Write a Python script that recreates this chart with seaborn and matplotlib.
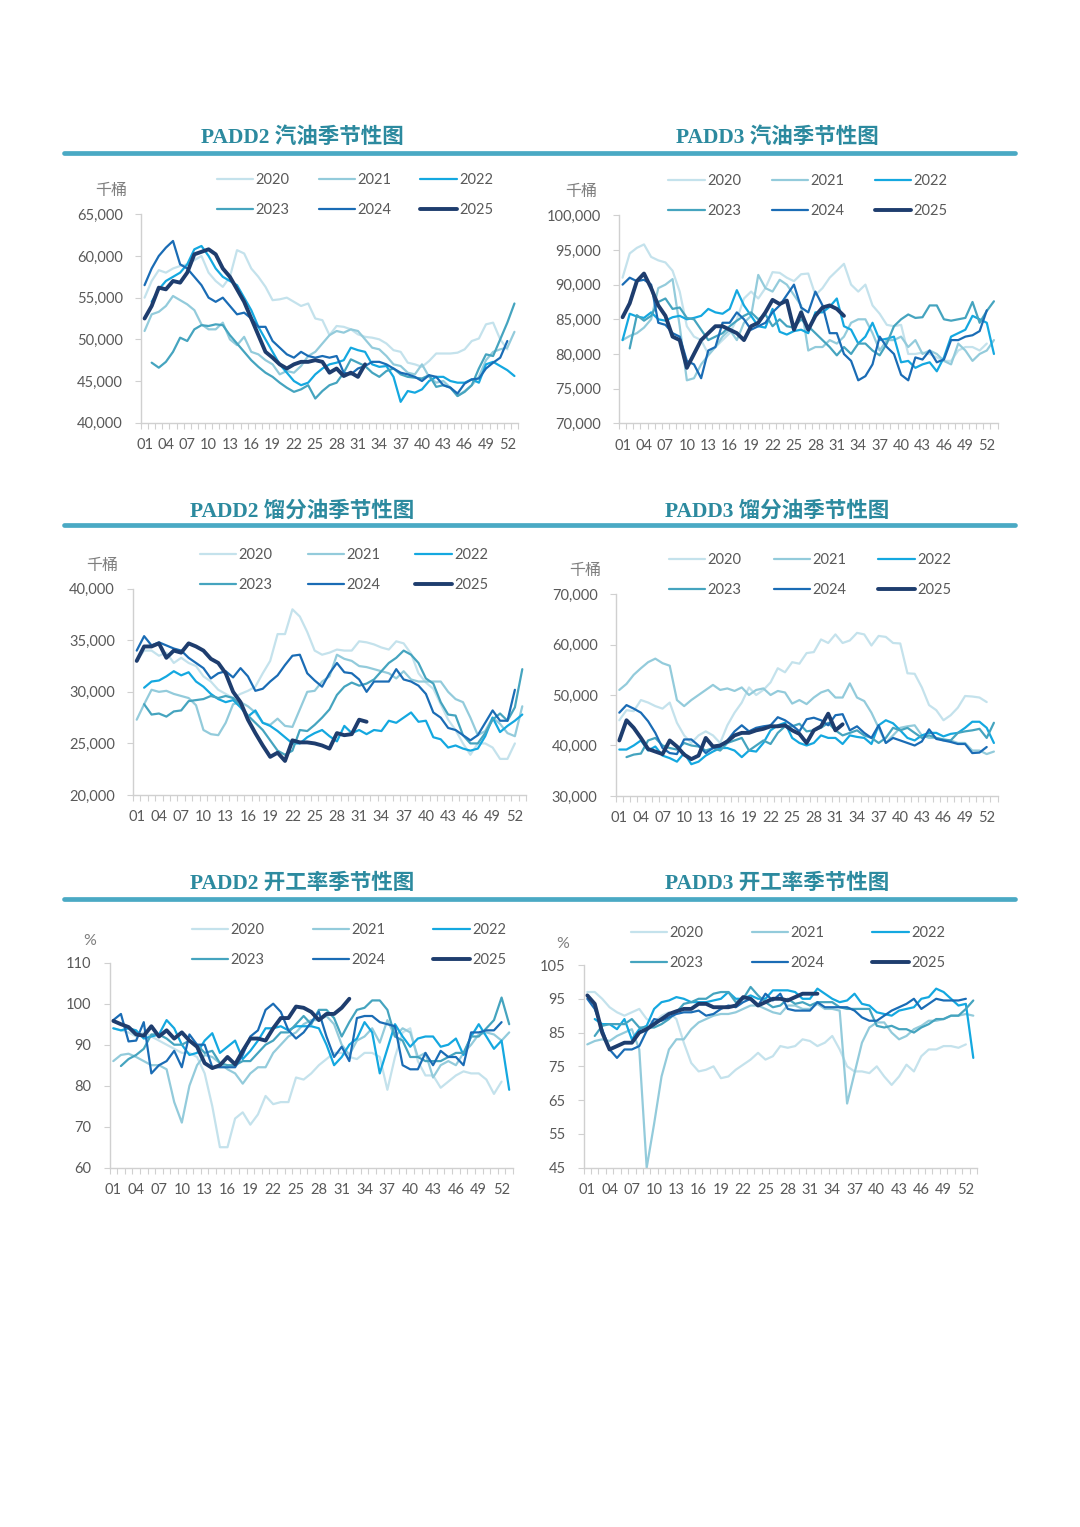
import numpy as np
import pandas as pd
import matplotlib
matplotlib.use("Agg")
import matplotlib.pyplot as plt
from matplotlib.lines import Line2D
from matplotlib.ticker import FuncFormatter
import seaborn as sns

# --- Axes categories ---
YEARS = ['2020', '2021', '2022', '2023', '2024', '2025']
WEEK_TICKS = list(range(1, 53, 3))
WEEK_LABELS = [f"{w:02d}" for w in WEEK_TICKS]
N = None

# --- PADD2 gasoline stocks (kbbl) ---
g2_2020 = [55000, 57000, 58300, 58000, 58500, 58800, 59000, 59500, 60000, 58000,
           57000, 56300, 57500, 60700, 60300, 58500, 57500, 56300, 54700, 54800,
           55000, 54500, 54000, 54300, 52500, 52300, 50500, 51600, 51500, 51200,
           50600, 50300, 50200, 50000, 49500, 48700, 48500, 47200, 47000, 46700,
           47400, 48300, 48300, 48300, 48400, 48800, 49800, 50100, 51800, 52000,
           50000, 48800, N]
g2_2021 = [51000, 53000, 53300, 54000, 55200, 54700, 54200, 53500, 51800, 51200,
           51200, 52000, 50000, 49300, 50300, 48500, 48200, 47500, 47000, 45800,
           46200, 46000, 46800, 48000, 48500, 49500, 50500, 51000, 50800, 51200,
           51000, 50000, 49000, 48800, 48000, 47000, 46800, 46000, 45800, 47000,
           45500, 44800, 45000, 44200, 43200, 43800, 44500, 45500, 47500, 48500,
           48800, 49000, 50900]
g2_2022 = [N, 54500, 56000, 57000, 57500, 58000, 59000, 60800, 61200, 60000,
           58500, 57500, 57000, 56500, 55000, 53500, 51500, 50000, 48500, 47000,
           46000, 45000, 44500, 44800, 45800, 46500, 47000, 47200, 47500, 49000,
           48700, 48500, 47000, 46700, 46800, 45500, 42500, 43800, 43600, 44000,
           45000, 45500, 45500, 45000, 44800, 44800, 45200, 44800, 47000, 47300,
           46800, 46300, 45600]
g2_2023 = [N, 47200, 46600, 47300, 48500, 50200, 49800, 51200, 51700, 51600,
           51800, 51700, 50500, 49500, 48500, 47500, 46700, 46000, 45500, 44800,
           44200, 43700, 44000, 44500, 42900, 43800, 44500, 44800, 46000, 47600,
           47200, 46800, 46000, 45500, 46200, 46500, 45800, 45500, 45400, 45300,
           45700, 44300, 44500, 44200, 43200, 43700, 44500, 46500, 48200, 48000,
           50000, 52000, 54300]
g2_2024 = [56500, 58500, 60000, 61000, 61800, 59000, 58500, 57500, 56500, 55000,
           54500, 55000, 54000, 53000, 53200, 52500, 51500, 51500, 49800, 49000,
           48200, 47800, 48500, 48000, 47800, 48000, 47800, 48000, 46000, 45800,
           46500, 46800, 47300, 47300, 47000, 46500, 46000, 45800, 45500, 45000,
           45700, 45500, 44500, 44200, 43500, 44700, 45200, 45300, 46500, 47200,
           47800, 49800, N]
g2_2025 = [52500, 54000, 56200, 56000, 57000, 56800, 58000, 60200, 60500, 60800,
           60200, 58500, 57500, 56000, 54500, 52500, 50500, 48500, 47800, 47000,
           46500, 47000, 47300, 47300, 47500, 47300, 46000, 46500, 45600, 46000,
           45500, 47000]

# --- PADD3 gasoline stocks (kbbl) ---
g3_2020 = [91000, 94500, 95300, 95800, 94000, 93500, 93200, 92000, 89000, 84000,
           82500, 82000, 80000, 81000, 82000, 83000, 85000, 88000, 89000, 88000,
           89500, 91800, 91700, 91000, 90500, 91500, 91600, 88500, 89500, 91000,
           92000, 93000, 90000, 89000, 90000, 87000, 85800, 84200, 84000, 84200,
           80000, 80000, 80200, 80000, 79500, 79000, 79000, 80500, 81000, 81000,
           80500, 81500, N]
g3_2021 = [82000, 82600, 83000, 83800, 85000, 89500, 90000, 90800, 84000, 76200,
           76500, 78500, 79800, 81000, 82500, 83500, 82000, 84500, 85500, 91400,
           89500, 89000, 90700, 90000, 88500, 87000, 80500, 81000, 81000, 82000,
           81500, 82500, 84500, 85000, 85000, 83000, 80500, 82000, 82000, 82500,
           81000, 82000, 80000, 80500, 80000, 79000, 78500, 81500, 80500, 79000,
           80000, 80500, 82000]
g3_2022 = [82000, 85800, 85400, 85200, 86000, 85000, 84800, 85300, 85500, 85000,
           85200, 85500, 86500, 86000, 85800, 86500, 89200, 87000, 85500, 84000,
           83800, 86500, 83200, 82800, 83300, 83500, 83000, 86000, 86000, 86800,
           88000, 84000, 83500, 81500, 82500, 84500, 82000, 82200, 82500, 78800,
           79000, 78000, 78500, 78800, 77500, 79500, 82500, 83000, 83500, 85500,
           85000, 84500, 80000]
g3_2023 = [N, 80800, 85600, 84800, 85500, 87500, 88000, 86500, 86700, 85200,
           85000, 83500, 82000, 82500, 83000, 84000, 84800, 85500, 86000, 85000,
           85700, 84000, 85000, 84000, 83800, 85000, 84000, 83000, 82000, 81000,
           79800, 81000, 80000, 81500, 81500, 80500, 79800, 81500, 84000, 85000,
           85700, 85200, 85300, 87000, 87000, 85000, 84800, 85000, 85200, 87500,
           84500, 86200, 87600]
g3_2024 = [90000, 91000, 90500, 90700, 90000, 84500, 84200, 83000, 82500, 79000,
           78500, 76500, 80500, 81000, 84500, 84500, 86000, 85000, 83500, 84000,
           84500, 86000, 87000, 88500, 90000, 86700, 86000, 89000, 87000, 83000,
           83000, 80000, 79000, 76200, 76800, 78500, 82500, 81000, 80000, 77000,
           76200, 79500, 79200, 80500, 78800, 79200, 82000, 82000, 82500, 82700,
           83300, 86300, N]
g3_2025 = [85300, 87300, 90500, 91600, 89500, 87000, 85500, 82500, 82000, 78000,
           80000, 82000, 83000, 84000, 84000, 83500, 83000, 82000, 84000, 84500,
           86000, 87800, 87200, 87700, 83500, 86000, 83500, 85500, 86700, 87000,
           86500, 85500]

# --- PADD2 distillate stocks (kbbl) ---
d2_2020 = [33000, 34000, 34000, 33500, 33800, 32800, 33300, 32800, 32500, 31500,
           31000, 30200, 29800, 29400, 29800, 30100, 30500, 31800, 33000, 35600,
           35600, 38000, 37300, 35800, 34000, 33600, 33800, 34100, 34000, 34000,
           34900, 34800, 34600, 34300, 34100, 34900, 34700, 33700, 31800, 30900,
           30300, 28800, 27300, 26300, 25000, 23900, 25000, 25000, 24600, 23500,
           23500, 25000, N]
d2_2021 = [27300, 28800, 30200, 30000, 30100, 29800, 29600, 29400, 28700, 26300,
           25900, 25800, 27000, 28800, 29000, 28600, 28000, 27000, 26800, 27400,
           26700, 26600, 28300, 30000, 30100, 31000, 31500, 33600, 33200, 33000,
           32500, 32400, 32200, 32000, 31800, 31300, 32000, 31200, 31000, 31000,
           31000, 31000, 30000, 29300, 29000, 27500, 25800, 26200, 27500, 26900,
           26000, 25700, 28600]
d2_2022 = [N, 30400, 31000, 31100, 31500, 32000, 31600, 31900, 31000, 30500,
           29800, 29300, 29000, 29200, 28500, 27600, 28200, 27000, 26700, 26200,
           25600, 25000, 25000, 25600, 26000, 26300, 25700, 25200, 26700, 26000,
           26300, 25900, 26300, 26200, 27200, 27000, 27500, 28000, 27100, 27200,
           25600, 25400, 24600, 24800, 24500, 24300, 24500, 25700, 27500, 26100,
           26700, 27200, 27800]
d2_2023 = [N, 28800, 27800, 27900, 27600, 28100, 28200, 29100, 29200, 29300,
           29600, 29400, 29600, 29400, 28700, 27700, 27000, 26300, 25300, 24300,
           23900, 24300, 26300, 26200, 26800, 27500, 28300, 29700, 30500, 30900,
           30600, 30800, 31200, 32000, 32800, 33300, 34000, 33600, 32800, 31300,
           30800, 29000, 27800, 27700, 25800, 25000, 25000, 26000, 27300, 27900,
           27200, 28500, 32200]
d2_2024 = [34000, 35400, 34500, 34800, 34500, 34200, 34000, 33300, 32800, 32300,
           31300, 31800, 32000, 31400, 32300, 31500, 30100, 30300, 31000, 31600,
           32600, 33500, 33600, 31800, 31100, 30500, 31800, 32800, 31900, 31800,
           31200, 30000, 31000, 31000, 31000, 32200, 31200, 31000, 30600, 29800,
           28000, 27500, 26500, 26300, 25800, 25300, 25800, 27000, 28200, 27200,
           27200, 30200, N]
d2_2025 = [33000, 34400, 34400, 34700, 33300, 34000, 33800, 34700, 34400, 34000,
           33200, 32800, 31800, 30000, 29000, 27300, 26000, 24800, 23700, 24100,
           23300, 25300, 25100, 25100, 25000, 24800, 24500, 26000, 25800, 25900,
           27300, 27100]

# --- PADD3 distillate stocks (kbbl) ---
d3_2020 = [45000, 47000, 46800, 49000, 48500, 47800, 47300, 48500, 44500, 42000,
           40500, 42000, 42800, 42000, 40500, 44000, 46500, 48500, 51500, 50000,
           51000, 52500, 55300, 54500, 56500, 56200, 58300, 58500, 61000, 60300,
           62000, 60300, 60800, 62300, 62000, 59800, 61700, 61500, 60300, 60200,
           54300, 54200, 51500, 48000, 47000, 45000, 46000, 47500, 49800, 49700,
           49500, 48600, N]
d3_2021 = [51000, 52200, 54000, 55300, 56500, 57200, 56300, 55800, 49000, 47800,
           49000, 50000, 51000, 52000, 51000, 51300, 50800, 51500, 50000, 51000,
           51300, 50000, 50800, 50500, 48300, 49000, 48200, 49500, 50500, 51000,
           49500, 49500, 52300, 49500, 48800, 46500, 43500, 40500, 42000, 43500,
           43800, 44000, 42000, 41500, 41500, 41000, 41000, 40500, 40500, 39000,
           39000, 38300, 38800]
d3_2022 = [39200, 39200, 40000, 41000, 39000, 39800, 38000, 37500, 36800, 38500,
           36300, 36800, 38000, 38800, 39500, 39500, 39000, 37700, 39000, 38800,
           40500, 43000, 44000, 44500, 41500, 40500, 40000, 40500, 42000, 41500,
           41500, 40300, 42000, 41700, 41500, 40300, 44000, 45000, 44400, 43000,
           41500, 41000, 42000, 42500, 42500, 41800, 42300, 42500, 43500, 44700,
           44700, 43500, 40500]
d3_2023 = [N, 37700, 38200, 38400, 41000, 41500, 40000, 39500, 39200, 40500,
           40000, 39800, 39000, 39500, 39000, 40500, 41000, 41500, 39000, 40000,
           41000, 40300, 42500, 43800, 43800, 44300, 42800, 43000, 43500, 44500,
           43000, 42000, 42500, 43000, 42000, 41500, 40500, 41500, 43500, 43000,
           43500, 42500, 41500, 42000, 41500, 41200, 41000, 42500, 42800, 43000,
           43300, 41500, 44500]
d3_2024 = [46500, 48000, 47300, 46500, 44800, 42500, 39500, 38500, 38300, 41200,
           41200, 40000, 38500, 39500, 39800, 41000, 42800, 44000, 42800, 43500,
           43800, 44000, 45600, 45000, 44000, 42800, 45200, 45500, 45000, 44000,
           46000, 46200, 43000, 43800, 42500, 41500, 44000, 40500, 41500, 41000,
           40500, 40000, 40800, 43200, 41300, 41000, 40700, 40300, 40300, 38500,
           38600, 39700, N]
d3_2025 = [41000, 45000, 43500, 41500, 39300, 38800, 38300, 41000, 39800, 38200,
           37300, 38000, 41500, 39800, 40000, 40800, 42000, 42500, 42500, 43000,
           43300, 43800, 43800, 44000, 43000, 42300, 40500, 43000, 43800, 46300,
           43000, 44200]

# --- PADD2 refinery utilisation (%) ---
u2_2020 = [94, 93.5, 93, 92, 93, 92, 91, 90, 89, 88,
           88, 87, 83, 75, 65, 65, 72, 73.5, 70.5, 73,
           77.5, 75.5, 76, 76, 82, 81.5, 83, 85, 86.5, 88,
           88, 87, 86.5, 88, 88, 87, 79, 87, 93, 94,
           86, 82.5, 82.5, 79.5, 81, 82.5, 83.5, 83, 83, 81.5,
           78, 81, N]
u2_2021 = [86, 87.5, 87.8, 87, 86, 85, 85, 84, 76, 71,
           80, 85, 87.5, 87, 85.5, 84, 83, 80.5, 83, 84.5,
           84.5, 88, 90, 92, 93, 95, 96, 96, 97, 95,
           90, 87.5, 91, 92, 94, 90.5, 96, 92, 94, 93,
           87, 88, 82, 85, 86, 85, 88, 90, 92.5, 93,
           92.5, 91, 93]
u2_2022 = [94, 93.5, 94, 93.5, 91.5, 92, 92.5, 96, 94, 90,
           87.5, 88, 91, 92.8, 88, 89.5, 91, 86.5, 88.5, 91,
           94, 94, 94.5, 93.5, 94.5, 94.5, 94.5, 94, 90, 85,
           87, 90, 91.5, 95.5, 93, 83, 89, 95, 92, 89.5,
           91.5, 92, 92, 89.5, 90, 91.5, 87.5, 92, 95, 92,
           89, 91, 79]
u2_2023 = [N, 84.8, 86.5, 87.5, 89, 92.5, 92.5, 91.5, 90, 90,
           91, 90, 88, 88.5, 85.5, 85, 85, 86, 86, 88,
           90, 91, 93, 93, 95, 97, 95, 98.5, 98.5, 96.5,
           92, 95.5, 98.5, 99, 100.8, 100.8, 98.5, 92, 91, 87,
           87, 86, 86, 86, 87, 88, 88, 92, 92, 94,
           96, 101.5, 95]
u2_2024 = [96, 97.5, 90.8, 91, 95.5, 83, 85, 86, 88.5, 84.5,
           92.5, 90, 90, 84.5, 84.5, 84.5, 84.5, 87.5, 92, 93.5,
           98.5, 100, 98, 93.5, 91.5, 93, 95.5, 98, 92, 87,
           89.5, 86, 96.5, 97, 97, 95.5, 95, 94.5, 85, 84,
           84, 88, 85, 88.5, 87, 87, 85, 93, 93, 93.5,
           93.5, 95.5, N]
u2_2025 = [95.8, 95, 94.3, 92.5, 92.2, 94.5, 92.0, 93.5, 91.5, 93.0,
           91.0, 89.5, 85.5, 84.3, 85.0, 87.0, 85.2, 88.5, 91.5, 91.5,
           91.0, 94.0, 96.5, 96.5, 99.3, 99.0, 98.0, 96.0, 97.5, 97.5,
           99.0, 101.2]

# --- PADD3 refinery utilisation (%) ---
u3_2020 = [97, 97, 95, 92.5, 91, 90, 91, 92, 89, 88,
           90, 91, 89, 82, 76, 73.5, 74, 75, 71.5, 72,
           74, 75.5, 77, 79, 77, 78, 81, 80.5, 81, 83,
           82.5, 81, 82, 84, 80, 75, 73.5, 73.5, 73, 75,
           72, 69.5, 72, 75.5, 73.5, 78, 80, 80, 81, 81,
           80.5, 81.5, N]
u3_2021 = [81.5, 82.5, 83, 82.5, 84, 85, 86, 80, 45, 58,
           72, 80, 83, 83, 86, 88, 89, 90, 90.5, 90.5,
           91, 92, 93, 93, 92, 91, 90.5, 93, 93, 92,
           92, 93.5, 92, 92, 91.5, 64, 73, 82, 86.5, 88,
           88, 85, 83, 84, 86, 87, 88.5, 88.5, 89, 90,
           90, 90.5, 90]
u3_2022 = [N, 89, 87.5, 87.5, 86, 89, 83, 86, 87, 92,
           94, 94.5, 95.5, 95, 94, 94, 94, 94.5, 95, 97,
           95, 95, 96, 95, 95, 97.5, 97.5, 97.5, 97, 95,
           95, 98, 96.5, 95, 94, 94.5, 96.5, 93.5, 93, 91,
           90.5, 90, 91.5, 92, 92.5, 95, 95.5, 98, 97, 95,
           93, 93.5, 77.5]
u3_2023 = [N, 84, 87, 87.5, 87.5, 87.5, 89, 86.5, 86.5, 86.5,
           87.5, 89, 91, 93.5, 94, 95, 95, 96.5, 97, 97,
           94, 95, 98.5, 96, 94, 92.5, 93, 95, 93.5, 94,
           93, 94, 94, 94, 92.5, 92, 92, 92, 92, 87,
           86.5, 87, 86, 86, 85, 86.5, 87.5, 89, 89, 90,
           90, 92, 94.5]
u3_2024 = [95, 92, 86, 80, 77.5, 80, 80, 81, 85.5, 89,
           88.5, 89.5, 90.5, 91, 91, 91.5, 90, 90.5, 92, 93,
           92.5, 94, 95, 93, 96.5, 94.5, 96.5, 92, 91.5, 91.5,
           91.5, 94, 92.5, 92.5, 92.5, 92.5, 91.5, 89.5, 88.5, 88.5,
           90, 91.5, 92.5, 93.5, 95, 92, 93.5, 95, 94.5, 94.5,
           94.5, 95, N]
u3_2025 = [96, 93.5, 85, 80, 81, 82, 82, 85, 86, 87.5,
           89, 90.5, 91.3, 92, 92, 93.5, 93.5, 92.5, 92.5, 92.5,
           93, 95.5, 95, 93, 94, 95, 95, 94.5, 95.5, 96.5,
           96.5, 96.5]

# Styling
COLORS = ['#c4e2ec', '#93cbdb', '#14a8e0', '#45a4bf', '#1a6cb5', '#1e3d6e']
WIDTHS = [1.6, 1.6, 1.6, 1.6, 1.6, 2.8]
W_PX, H_PX = 1080, 1527
TITLE_COLOR = '#2c8a9f'
RULE_COLOR = '#4aa9c4'
TEXT_GRAY = '#595959'
AXIS_GRAY = '#d0d0d0'

comma_fmt = FuncFormatter(lambda v, p: f"{v:,.0f}")
plain_fmt = FuncFormatter(lambda v, p: f"{v:.0f}")

panels = [
    dict(title="PADD2 汽油季节性图", series=[g2_2020, g2_2021, g2_2022, g2_2023, g2_2024, g2_2025],
         box=(141, 518, 214.3, 422.7), yticks=np.arange(40000, 65001, 5000), fmt=comma_fmt,
         unit="千桶", unit_xy=(111, 191), title_xy=(302, 136), leg_xy=(355, 195), colsp=2.0),
    dict(title="PADD3 汽油季节性图", series=[g3_2020, g3_2021, g3_2022, g3_2023, g3_2024, g3_2025],
         box=(619, 997.5, 215.3, 423.3), yticks=np.arange(70000, 100001, 5000), fmt=comma_fmt,
         unit="千桶", unit_xy=(581, 192), title_xy=(777, 136), leg_xy=(808, 196), colsp=2.1),
    dict(title="PADD2 馏分油季节性图", series=[d2_2020, d2_2021, d2_2022, d2_2023, d2_2024, d2_2025],
         box=(133, 526, 588.7, 795), yticks=np.arange(20000, 40001, 5000), fmt=comma_fmt,
         unit="千桶", unit_xy=(102, 566), title_xy=(302, 509), leg_xy=(344, 570), colsp=2.4),
    dict(title="PADD3 馏分油季节性图", series=[d3_2020, d3_2021, d3_2022, d3_2023, d3_2024, d3_2025],
         box=(615.7, 997.5, 594, 796), yticks=np.arange(30000, 70001, 10000), fmt=comma_fmt,
         unit="千桶", unit_xy=(585, 571), title_xy=(777, 509), leg_xy=(810, 575), colsp=2.2),
    dict(title="PADD2 开工率季节性图", series=[u2_2020, u2_2021, u2_2022, u2_2023, u2_2024, u2_2025],
         box=(109.5, 513, 962.7, 1167.7), yticks=np.arange(60, 111, 10), fmt=plain_fmt,
         unit="%", unit_xy=(90, 941), title_xy=(302, 882), leg_xy=(349, 945), colsp=3.3),
    dict(title="PADD3 开工率季节性图", series=[u3_2020, u3_2021, u3_2022, u3_2023, u3_2024, u3_2025],
         box=(583.6, 977, 965, 1167.7), yticks=np.arange(45, 106, 10), fmt=plain_fmt,
         unit="%", unit_xy=(563, 944), title_xy=(777, 882), leg_xy=(788, 948), colsp=3.3),
]
RULE_Y = [153, 525, 899]

sns.set_theme(style="white")
plt.rcParams['font.family'] = ['Lato', 'Noto Sans CJK SC', 'DejaVu Sans']
plt.rcParams['axes.unicode_minus'] = False

fig = plt.figure(figsize=(W_PX / 100, H_PX / 100), dpi=100)
fig.patch.set_facecolor('white')


def fx(x):
    return x / W_PX


def fy(y):
    return 1 - y / H_PX


def to_long(series):
    frames = []
    for year, vals in zip(YEARS, series):
        weeks = np.arange(1, len(vals) + 1)
        frames.append(pd.DataFrame({'week': weeks, 'value': vals, 'year': year}))
    df = pd.concat(frames, ignore_index=True)
    return df.dropna(subset=['value'])


for p in panels:
    l, r, t, b = p['box']
    ax = fig.add_axes([fx(l), fy(b), fx(r) - fx(l), fy(t) - fy(b)])
    df = to_long(p['series'])
    sns.lineplot(data=df, x='week', y='value', hue='year', size='year',
                 hue_order=YEARS, size_order=YEARS,
                 palette=dict(zip(YEARS, COLORS)), sizes=dict(zip(YEARS, WIDTHS)),
                 errorbar=None, legend=False, ax=ax)
    for ln in ax.get_lines():
        ln.set_solid_joinstyle('round')
        ln.set_solid_capstyle('round')

    ax.set_xlim(0.5, 53.5)
    ax.set_ylim(p['yticks'][0], p['yticks'][-1])
    ax.set_xlabel('')
    ax.set_ylabel('')
    ax.set_yticks(p['yticks'])
    ax.yaxis.set_major_formatter(p['fmt'])
    ax.set_xticks(WEEK_TICKS)
    ax.set_xticklabels(WEEK_LABELS)
    ax.set_xticks(np.arange(0.5, 54, 1), minor=True)
    ax.tick_params(axis='x', which='major', length=0, pad=11, labelsize=10.5, labelcolor=TEXT_GRAY)
    ax.tick_params(axis='x', which='minor', length=4, width=0.8, color=AXIS_GRAY, direction='out')
    ax.tick_params(axis='y', which='major', length=4, width=0.8, color=AXIS_GRAY, pad=9,
                   labelsize=10.5, labelcolor=TEXT_GRAY, direction='out')
    ax.tick_params(bottom=True, left=True, which='both')
    for s in ['top', 'right']:
        ax.spines[s].set_visible(False)
    for s in ['left', 'bottom']:
        ax.spines[s].set_color(AXIS_GRAY)
        ax.spines[s].set_linewidth(1.0)
    ax.grid(False)
    ax.set_facecolor('none')

    # unit label and title
    ux, uy = p['unit_xy']
    fig.text(fx(ux), fy(uy), p['unit'], ha='center', va='center', fontsize=11.5, color='#7f7f7f')
    tx, ty = p['title_xy']
    fig.text(fx(tx), fy(ty + 2), p['title'], ha='center', va='center', fontsize=15.5,
             fontweight='bold', color=TITLE_COLOR,
             family=['Liberation Serif', 'Noto Sans CJK SC'])

    # legend, row-major order
    handles = [Line2D([0], [0], color=c, lw=w) for c, w in zip(COLORS, WIDTHS)]
    order = [0, 3, 1, 4, 2, 5]
    lx, ly = p['leg_xy']
    leg = fig.legend([handles[i] for i in order], [YEARS[i] for i in order],
                     loc='center', bbox_to_anchor=(fx(lx), fy(ly)), ncol=3, frameon=False,
                     handlelength=2.5, handletextpad=0.15, columnspacing=p['colsp'],
                     labelspacing=1.15, fontsize=10.5, borderaxespad=0, borderpad=0)
    for txt in leg.get_texts():
        txt.set_color(TEXT_GRAY)

# header rules
for y in RULE_Y:
    fig.add_artist(Line2D([fx(64), fx(1015)], [fy(y), fy(y)], color=RULE_COLOR, lw=3.4,
                          transform=fig.transFigure))

fig.savefig('out.png', dpi=100, facecolor='white')
